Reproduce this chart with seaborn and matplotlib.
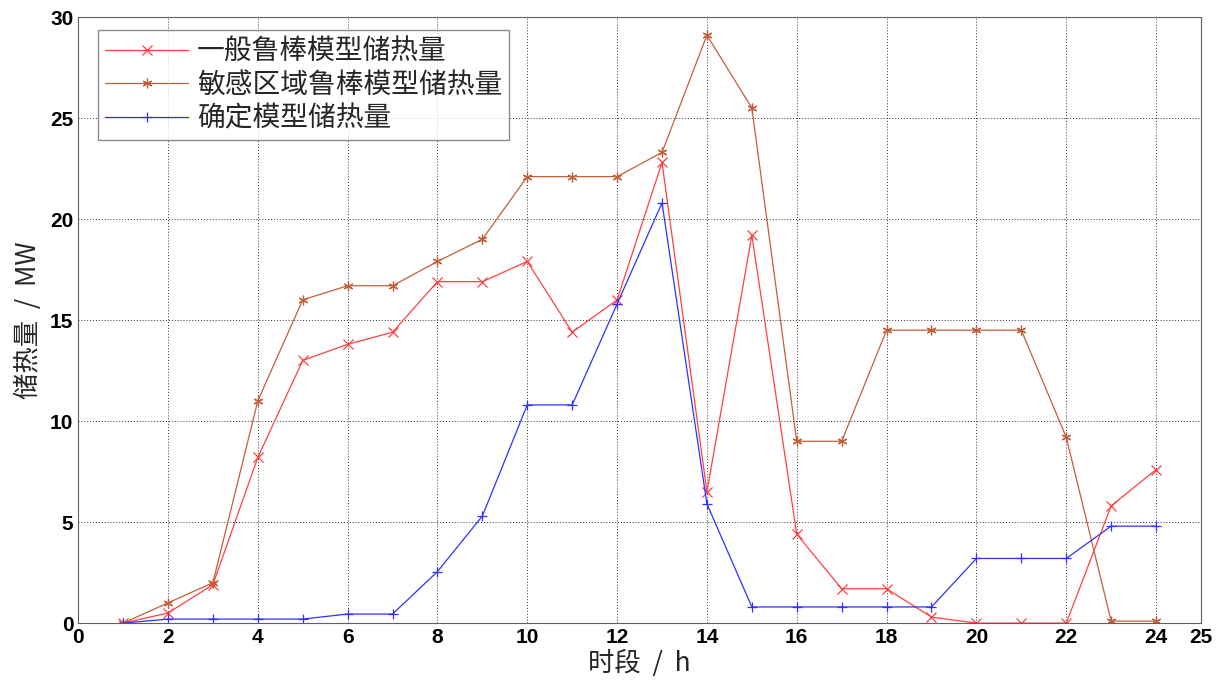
import numpy as np
import pandas as pd
import matplotlib
matplotlib.use("Agg")
import matplotlib.pyplot as plt
import seaborn as sns
from matplotlib import font_manager

hours = list(range(1, 25))
general_robust = [0, 0.5, 1.9, 8.2, 13.0, 13.8, 14.4, 16.9, 16.9, 17.9, 14.4, 16.0,
                  22.8, 6.5, 19.2, 4.4, 1.7, 1.7, 0.3, 0, 0, 0, 5.8, 7.6]
sensitive_robust = [0, 1.0, 2.0, 11.0, 16.0, 16.7, 16.7, 17.9, 19.0, 22.1, 22.1, 22.1,
                    23.3, 29.1, 25.5, 9.0, 9.0, 14.5, 14.5, 14.5, 14.5, 9.2, 0.1, 0.1]
deterministic = [0, 0.2, 0.2, 0.2, 0.2, 0.45, 0.45, 2.55, 5.3, 10.8, 10.8, 15.8,
                 20.8, 5.9, 0.8, 0.8, 0.8, 0.8, 0.8, 3.2, 3.2, 3.2, 4.8, 4.8]
series_names = ["一般鲁棒模型储热量", "敏感区域鲁棒模型储热量", "确定模型储热量"]
x_ticks = list(range(0, 26, 2)) + [25]
y_ticks = [0, 5, 10, 15, 20, 25, 30]

df = pd.concat([
    pd.DataFrame({"hour": hours, "value": v, "series": n})
    for v, n in zip([general_robust, sensitive_robust, deterministic], series_names)
])

sns.set_theme(style="white")
plt.rcParams['font.family'] = ['Noto Sans CJK SC', 'DejaVu Sans']

avail = {f.name for f in font_manager.fontManager.ttflist}
tick_family = 'Liberation Sans Narrow' if 'Liberation Sans Narrow' in avail else 'Liberation Sans'

fig = plt.figure(figsize=(12.21, 6.81), dpi=100)
ax = fig.add_axes([0.064, 0.085, 0.9196, 0.89])

colors = ["#ff4040", "#c0603a", "#3030ff"]
palette = dict(zip(series_names, colors))
markers = {series_names[0]: "x", series_names[1]: (6, 2, 0), series_names[2]: "+"}
sns.lineplot(data=df, x="hour", y="value", hue="series", style="series",
             palette=palette, markers=markers, dashes=False, linewidth=0.9,
             markersize=7, ax=ax, legend=True)
for line in ax.lines:
    line.set_markeredgecolor(line.get_color())
    line.set_markeredgewidth(0.9)

ax.set_xlim(0, 25)
ax.set_ylim(0, 30)
ax.set_xticks(x_ticks)
ax.set_yticks(y_ticks)
ax.grid(True, color="#303030", linestyle=(0, (1, 2)), linewidth=0.7)
for s in ax.spines.values():
    s.set_color("#606060")
    s.set_linewidth(0.8)
ax.tick_params(direction="in", length=4, labelsize=15, colors="black", width=0.8)
for lab in ax.get_xticklabels() + ax.get_yticklabels():
    lab.set_fontfamily(tick_family)
    lab.set_fontweight("bold")
ax.set_xlabel("时段  /  h", fontsize=19, labelpad=2)
ax.set_ylabel("储热量  /  MW", fontsize=19, labelpad=6)

leg = ax.legend(loc="upper left", bbox_to_anchor=(0.0178, 0.979), fontsize=20,
                frameon=True, fancybox=False, edgecolor="#707070", borderaxespad=0,
                handlelength=3.0, borderpad=0.25, labelspacing=0.12, handletextpad=0.3)
leg.get_frame().set_linewidth(1.0)
for h in leg.legend_handles:
    h.set_markeredgecolor(h.get_color())
    h.set_markeredgewidth(0.9)

fig.savefig("out.png", dpi=100, facecolor="white")
